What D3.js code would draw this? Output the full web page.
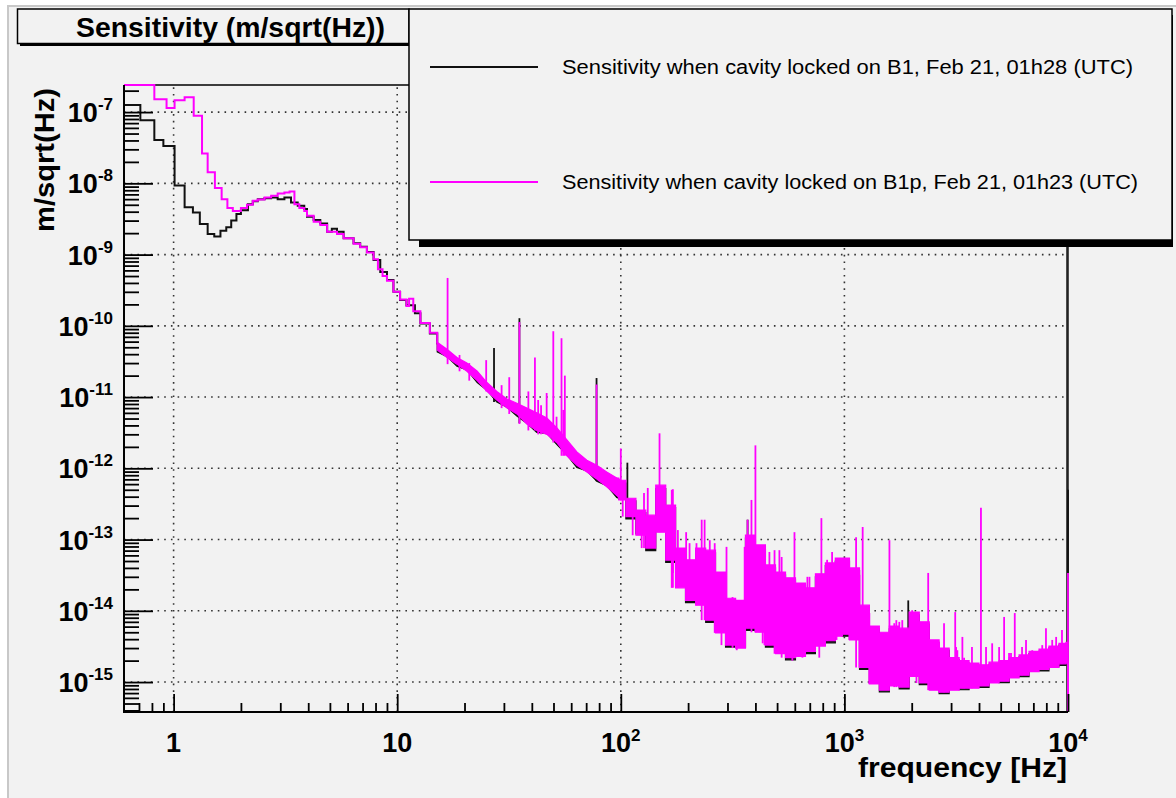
<!DOCTYPE html>
<meta charset="utf-8">
<style>

body {
  margin: 0;
  background: white;
}

svg {
  display: block;
}

text {
  font-family: "Liberation Sans", Arial, Helvetica, sans-serif;
  fill: #000;
}

.grid line {
  stroke: #333;
  stroke-width: 1.6px;
  stroke-dasharray: 1.6px 5.1px;
}

.ticks line {
  stroke: #000;
  stroke-width: 1.8px;
}

.trace {
  fill: none;
  stroke-width: 2px;
}

.peaks line {
  stroke-width: 1.8px;
}

.bold {
  font-weight: bold;
}

</style>
<svg></svg>
<script src="https://cdn.jsdelivr.net/npm/d3@7"></script>
<script>

var width = 1176;
var height = 798;

// frequency in Hz, amplitude in m/sqrt(Hz)

// below 15 Hz both spectra are drawn as plain histogram steps
var b1Steps = [
  [0.60, 1.26e-7], [0.71, 7.7e-8], [0.82, 4.05e-8], [0.90, 3.33e-8], [1.01, 9.35e-9],
  [1.12, 4.6e-9], [1.22, 3.9e-9], [1.31, 2.68e-9], [1.42, 1.94e-9], [1.52, 1.8e-9],
  [1.62, 2.16e-9], [1.72, 2.41e-9], [1.81, 3.0e-9], [1.91, 3.7e-9], [2.0, 4.2e-9],
  [2.15, 5.1e-9], [2.26, 5.6e-9], [2.38, 6.0e-9], [2.55, 6.2e-9], [2.73, 6.35e-9],
  [2.92, 6.0e-9], [3.13, 6.35e-9], [3.35, 5.4e-9], [3.59, 4.85e-9], [3.84, 4.35e-9],
  [3.95, 3.4e-9], [4.23, 3.05e-9], [4.53, 2.74e-9], [4.86, 2.09e-9], [5.1, 2.3e-9],
  [5.38, 2.09e-9], [5.76, 1.69e-9], [6.38, 1.44e-9], [6.83, 1.29e-9], [7.32, 1.09e-9],
  [7.84, 8.4e-10], [8.40, 5.7e-10], [9.0, 4.4e-10], [9.62, 3.0e-10], [10.3, 2.3e-10],
  [11.0, 1.95e-10], [12.0, 1.5e-10], [12.7, 1.08e-10], [14.0, 7.8e-11], [15.1, 5.5e-11]
];

var b1pSteps = [
  [0.60, 2.6e-7], [0.82, 1.52e-7], [0.93, 1.14e-7], [1.01, 1.47e-7], [1.12, 1.61e-7],
  [1.23, 8.9e-8], [1.34, 2.63e-8], [1.42, 1.43e-8], [1.53, 8.6e-9], [1.64, 6.0e-9],
  [1.74, 4.5e-9], [1.84, 4.1e-9], [2.0, 4.5e-9], [2.13, 5.0e-9], [2.26, 5.7e-9],
  [2.38, 5.95e-9], [2.55, 6.35e-9], [2.73, 6.7e-9], [2.92, 7.2e-9], [3.13, 7.46e-9],
  [3.3, 7.7e-9], [3.47, 5.1e-9], [3.65, 4.5e-9], [3.84, 4.1e-9], [3.95, 3.5e-9],
  [4.23, 2.9e-9], [4.53, 2.6e-9], [4.86, 2.1e-9], [5.38, 1.95e-9], [5.76, 1.7e-9],
  [6.38, 1.42e-9], [6.83, 1.27e-9], [7.32, 1.07e-9], [7.84, 8.6e-10], [8.2, 6.2e-10],
  [8.6, 5.0e-10], [9.0, 4.3e-10], [9.62, 3.0e-10], [10.3, 2.35e-10], [11.0, 1.9e-10],
  [11.3, 2.4e-10], [11.8, 1.6e-10], [12.7, 1.1e-10], [14.0, 8.0e-11], [15.1, 5.6e-11]
];

// above 15 Hz the bins are narrower than a pixel: keep the range (low, high) per column
var bandFreq = [
  15.1, 16.7, 18.5, 20.5, 22.8, 25.2, 27.9, 31.0, 34.3, 38.0, 42.1, 46.7, 51.8, 57.4, 63.6, 70.5, 78.1, 86.5, 95.9,
  100, 111, 123, 136, 151, 167, 185, 205, 228, 252, 279, 310, 343, 380, 421, 467, 518, 574, 636, 705, 781, 865, 959,
  1000, 1110, 1230, 1360, 1510, 1670, 1850, 2050, 2280, 2520, 2790, 3100, 3430, 3800, 4210, 4670, 5180, 5740, 6360,
  7050, 7810, 8650, 9590, 10000
];

var b1pHi = [
  5.9e-11, 4.7e-11, 3.6e-11, 3.0e-11, 2.3e-11, 1.6e-11, 1.2e-11, 9.4e-12, 8.2e-12, 7.0e-12, 6.0e-12, 5.1e-12, 3.7e-12,
  2.5e-12, 1.7e-12, 1.3e-12, 1.1e-12, 8.9e-13, 7.3e-13,
  6.8e-13, 3.8e-13, 2.6e-13, 2.2e-13, 5.8e-13, 3.05e-13, 7.6e-14, 5.2e-14, 7.6e-14, 7.1e-14, 3.5e-14, 1.5e-14, 1.4e-14,
  1.16e-13, 8.4e-14, 4.4e-14, 3.5e-14, 2.9e-14, 2.45e-14, 2.1e-14, 3.3e-14, 4.7e-14, 5.5e-14,
  5.5e-14, 4.0e-14, 1.2e-14, 6.1e-15, 5.0e-15, 6.1e-15, 5.7e-15, 9.6e-15, 7.0e-15, 3.9e-15, 3.0e-15, 2.2e-15, 2.0e-15,
  1.85e-15, 1.75e-15, 1.9e-15, 2.0e-15, 2.2e-15, 2.4e-15, 2.7e-15, 2.9e-15, 3.2e-15, 3.5e-15, 3.6e-15
];

var b1pLo = [
  4.6e-11, 3.6e-11, 2.9e-11, 2.3e-11, 1.7e-11, 1.2e-11, 9.1e-12, 7.0e-12, 5.8e-12, 4.2e-12, 3.4e-12, 3.0e-12, 2.3e-12,
  1.5e-12, 1.1e-12, 8.9e-13, 7.1e-13, 5.5e-13, 4.2e-13,
  3.6e-13, 2.1e-13, 1.15e-13, 7.6e-14, 1.27e-13, 5.15e-14, 2.1e-14, 1.4e-14, 1.2e-14, 7.4e-15, 4.9e-15, 3.3e-15, 3.0e-15,
  5.7e-15, 5.0e-15, 3.3e-15, 2.5e-15, 2.2e-15, 2.3e-15, 2.7e-15, 3.2e-15, 3.8e-15, 4.4e-15,
  4.7e-15, 3.9e-15, 1.6e-15, 9.4e-16, 7.7e-16, 8.8e-16, 8.5e-16, 1.2e-15, 9.7e-16, 7.7e-16, 7.2e-16, 7.7e-16, 8.2e-16,
  8.2e-16, 8.8e-16, 9.7e-16, 1.03e-15, 1.14e-15, 1.25e-15, 1.4e-15, 1.5e-15, 1.6e-15, 1.8e-15, 1.85e-15
];

var b1Hi = [
  5.6e-11, 4.5e-11, 3.5e-11, 2.8e-11, 2.2e-11, 1.5e-11, 1.15e-11, 9.0e-12, 7.6e-12, 6.5e-12, 5.5e-12, 4.8e-12, 3.5e-12,
  2.3e-12, 1.6e-12, 1.2e-12, 1.0e-12, 8.4e-13, 7.0e-13,
  6.2e-13, 3.5e-13, 2.4e-13, 2.0e-13, 5.2e-13, 2.8e-13, 7.0e-14, 4.8e-14, 7.0e-14, 6.5e-14, 3.2e-14, 1.4e-14, 1.3e-14,
  1.05e-13, 7.7e-14, 4.0e-14, 3.2e-14, 2.7e-14, 2.3e-14, 2.0e-14, 3.0e-14, 4.3e-14, 5.0e-14,
  5.0e-14, 3.7e-14, 1.1e-14, 5.6e-15, 4.6e-15, 5.6e-15, 5.3e-15, 8.8e-15, 6.5e-15, 3.6e-15, 2.8e-15, 2.05e-15, 1.85e-15,
  1.72e-15, 1.63e-15, 1.77e-15, 1.86e-15, 2.05e-15, 2.25e-15, 2.5e-15, 2.7e-15, 3.0e-15, 3.3e-15, 3.4e-15
];

var b1Lo = [
  4.3e-11, 3.7e-11, 2.7e-11, 2.4e-11, 1.6e-11, 1.25e-11, 8.5e-12, 7.2e-12, 5.4e-12, 4.3e-12, 3.2e-12, 3.1e-12, 2.15e-12,
  1.55e-12, 1.03e-12, 9.2e-13, 6.6e-13, 5.7e-13, 3.9e-13,
  3.7e-13, 1.95e-13, 1.2e-13, 7.0e-14, 1.3e-13, 4.8e-14, 2.2e-14, 1.3e-14, 1.25e-14, 6.9e-15, 5.1e-15, 3.1e-15, 3.1e-15,
  5.3e-15, 5.2e-15, 3.1e-15, 2.6e-15, 2.05e-15, 2.4e-15, 2.5e-15, 3.3e-15, 3.55e-15, 4.6e-15,
  4.4e-15, 4.0e-15, 1.5e-15, 9.7e-16, 7.3e-16, 9.1e-16, 8.0e-16, 1.25e-15, 9.2e-16, 8.0e-16, 6.9e-16, 8.0e-16, 7.8e-16,
  8.5e-16, 8.4e-16, 1.0e-15, 9.8e-16, 1.18e-15, 1.19e-15, 1.45e-15, 1.43e-15, 1.65e-15, 1.72e-15, 1.9e-15
];

// narrow lines sticking out of the band: [Hz, peak value]
var b1pPeaks = [
  [16.8, 4.7e-10], [19.0, 3.9e-11], [21.0, 3.0e-11], [25.0, 3.3e-11], [29.3, 1.47e-11], [31.7, 1.9e-11],
  [35.2, 1.13e-10], [38.6, 1.2e-11], [41.3, 3.6e-11], [42.7, 9.1e-12], [44.0, 7.7e-12], [46.6, 1.14e-11],
  [49.9, 8.4e-11], [51.6, 5.3e-12], [54.3, 6.7e-11], [55.3, 6.6e-12], [56.2, 2.0e-11], [77.9, 1.5e-11],
  [100, 1.9e-12], [102, 3.9e-13], [113, 2.85e-13], [124, 2.0e-13], [127, 4.5e-13], [132, 5.3e-13],
  [138, 1.23e-13], [149, 3.1e-12], [163, 2.85e-13], [169, 5.0e-13], [171, 5.1e-13], [180, 1.36e-13],
  [196, 1.27e-13], [203, 8.9e-14], [218, 8.9e-14], [230, 1.9e-13], [237, 1.9e-13], [250, 9.8e-14],
  [263, 8.9e-14], [282, 2.15e-14], [297, 7.9e-14], [316, 1.56e-14], [358, 7.9e-14], [369, 1.9e-13],
  [384, 3.6e-13], [400, 2.1e-12], [417, 7.9e-14], [439, 4.1e-14], [462, 6.7e-14], [487, 7.1e-14],
  [512, 7.1e-14], [524, 5.7e-14], [568, 2.15e-14], [598, 1.27e-13], [630, 2.15e-14], [683, 3.0e-14],
  [698, 3.0e-14], [789, 2.0e-13], [837, 5.2e-14], [881, 6.7e-14], [979, 5.5e-14],
  [1053, 2.9e-14], [1086, 3.0e-14], [1128, 1.08e-13], [1167, 3.2e-14], [1207, 1.5e-13], [1293, 9.3e-15],
  [1590, 9.8e-14], [1671, 6.7e-15], [1707, 7.4e-15], [1760, 7.0e-15], [1815, 7.4e-15], [2010, 1.02e-14],
  [2100, 6.3e-15], [2370, 3.4e-14], [2650, 3.65e-15], [2790, 6.7e-15], [3130, 9.6e-15], [3160, 3.1e-15],
  [3200, 2.8e-15], [3370, 4.3e-15], [3430, 2.2e-15], [3720, 3.1e-15], [4080, 2.8e-13], [4300, 3.1e-15],
  [4580, 3.5e-15], [4920, 3.1e-15], [5180, 8.2e-15], [5450, 2.55e-15], [5560, 2.55e-15], [5780, 9.3e-15],
  [6230, 3.1e-15], [6490, 3.9e-15], [6920, 2.8e-15], [7200, 2.2e-15], [7670, 3.3e-15], [7970, 5.7e-15],
  [8220, 3.1e-15], [8500, 3.9e-15], [8850, 4.3e-15], [9400, 5.4e-15], [10000, 3.4e-14]
];

var b1Peaks = [
  [27.1, 4.9e-11], [35.2, 1.28e-10], [77.9, 1.85e-11], [107, 1.2e-12], [369, 1.9e-13], [1930, 1.4e-14],
  [10000, 5e-13]
];

// short dips below the band: [Hz, lowest value]
var b1pDips = [
  [171, 3.4e-14], [268, 5.4e-15], [330, 2.8e-15], [431, 3.5e-15], [585, 2.0e-15], [649, 2.2e-15],
  [772, 2.2e-15], [922, 3.9e-15]
];

var xMajor = [1, 10, 100, 1000, 10000];
var xLabels = [['1', ''], ['10', ''], ['10', '2'], ['10', '3'], ['10', '4']];
var yMajor = [1e-7, 1e-8, 1e-9, 1e-10, 1e-11, 1e-12, 1e-13, 1e-14, 1e-15];
var yLabels = ['-7', '-8', '-9', '-10', '-11', '-12', '-13', '-14', '-15'];

var title = 'Sensitivity (m/sqrt(Hz))';
var xTitle = 'frequency [Hz]';
var yTitle = 'm/sqrt(Hz)';
var legendLabels = [
  'Sensitivity when cavity locked on B1, Feb 21, 01h28 (UTC)',
  'Sensitivity when cavity locked on B1p, Feb 21, 01h23 (UTC)'
];
var colors = ['#111', '#ff00ff'];

var frame = {left: 124, top: 85, right: 1068, bottom: 712};

var x = d3.scaleLog().domain([0.6, 10000]).range([frame.left, frame.right]);
var y = d3.scaleLog().domain([3.8e-16, 2.4e-7]).range([frame.bottom, frame.top]).clamp(true);

var svg = d3.select('svg')
  .attr('width', width)
  .attr('height', height);

// canvas
svg.append('rect').attr('width', width).attr('height', height).attr('fill', '#fff');
svg.append('rect').attr('x', 8).attr('y', 6).attr('width', width - 8).attr('height', height - 6).attr('fill', '#f2f2f2');
svg.append('path').attr('d', 'M8,' + height + 'V6H' + width)
  .attr('fill', 'none').attr('stroke', '#c8c8c8').attr('stroke-width', 2);

svg.append('clipPath').attr('id', 'frame-clip')
  .append('rect')
  .attr('x', frame.left).attr('y', frame.top - 1)
  .attr('width', frame.right - frame.left + 2).attr('height', frame.bottom - frame.top + 1);

// grid
var grid = svg.append('g').attr('class', 'grid');
grid.selectAll('.gx')
  .data(xMajor.filter(function (d) { return x(d) < frame.right - 2; }))
  .enter().append('line')
  .attr('x1', function (d) { return x(d); })
  .attr('x2', function (d) { return x(d); })
  .attr('y1', frame.bottom)
  .attr('y2', frame.top);
grid.selectAll('.gy')
  .data(yMajor)
  .enter().append('line')
  .attr('x1', frame.left)
  .attr('x2', frame.right)
  .attr('y1', function (d) { return y(d); })
  .attr('y2', function (d) { return y(d); });

// frame top and right, under the data
svg.append('path')
  .attr('d', 'M' + frame.left + ',' + frame.top + 'H' + (frame.right - 0.5))
  .attr('fill', 'none').attr('stroke', '#000').attr('stroke-width', 1.6);
svg.append('line')
  .attr('x1', frame.right - 0.5).attr('x2', frame.right - 0.5)
  .attr('y1', frame.top).attr('y2', frame.bottom)
  .attr('stroke', '#222').attr('stroke-width', 2.6);

// spectra
var plot = svg.append('g').attr('clip-path', 'url(#frame-clip)');

var stepLine = d3.line()
  .x(function (d) { return x(d[0]); })
  .y(function (d) { return y(d[1]); })
  .curve(d3.curveStepAfter);

// smooth below 100 Hz, blocky columns above
var bandLow = d3.area()
  .x(function (d) { return x(d.f); })
  .y0(function (d) { return y(d.lo); })
  .y1(function (d) { return y(d.hi); });
var bandHigh = d3.area()
  .x(function (d) { return x(d.f); })
  .y0(function (d) { return y(d.lo); })
  .y1(function (d) { return y(d.hi); })
  .curve(d3.curveStep);

function nearest (f) {
  return Math.min(bandFreq.length - 1, d3.bisectLeft(bandFreq, f));
}

function drawSeries (steps, lo, hi, peaks, dips, color) {
  var rows = bandFreq.map(function (f, i) { return {f: f, lo: lo[i], hi: hi[i]}; });

  plot.append('path')
    .datum(steps)
    .attr('class', 'trace')
    .attr('stroke', color)
    .attr('d', stepLine);

  plot.append('path')
    .datum(rows.filter(function (d) { return d.f <= 100; }))
    .attr('fill', color)
    .attr('stroke', color)
    .attr('stroke-width', 1.2)
    .attr('d', bandLow);

  plot.append('path')
    .datum(rows.filter(function (d) { return d.f >= 95; }))
    .attr('fill', color)
    .attr('stroke', color)
    .attr('stroke-width', 1.2)
    .attr('d', bandHigh);

  var g = plot.append('g').attr('class', 'peaks');

  g.selectAll('.up')
    .data(peaks)
    .enter().append('line')
    .attr('stroke', color)
    .attr('x1', function (d) { return x(d[0]); })
    .attr('x2', function (d) { return x(d[0]); })
    .attr('y1', function (d) { return y(d[1]); })
    .attr('y2', function (d) { return y(lo[nearest(d[0])]); });

  g.selectAll('.down')
    .data(dips)
    .enter().append('line')
    .attr('stroke', color)
    .attr('x1', function (d) { return x(d[0]); })
    .attr('x2', function (d) { return x(d[0]); })
    .attr('y1', function (d) { return y(d[1]); })
    .attr('y2', function (d) { return y(hi[nearest(d[0])]); });

  // the last bin closes down onto the frame bottom
  var last = bandFreq.length - 1;
  plot.append('line')
    .attr('stroke', color)
    .attr('stroke-width', 2)
    .attr('x1', x(bandFreq[last]))
    .attr('x2', x(bandFreq[last]))
    .attr('y1', y(lo[last]))
    .attr('y2', frame.bottom);
}

drawSeries(b1Steps, b1Lo, b1Hi, b1Peaks, [], colors[0]);
drawSeries(b1pSteps, b1pLo, b1pHi, b1pPeaks, b1pDips, colors[1]);

function isPow10 (d) {
  var l = Math.log10(d);
  return Math.abs(l - Math.round(l)) < 1e-6;
}

var xMinor = x.ticks().filter(function (d) { return !isPow10(d) && d > 0.61; });
var yMinor = y.ticks().filter(function (d) { return !isPow10(d); });

var ticks = svg.append('g').attr('class', 'ticks');

ticks.append('g')
  .attr('transform', 'translate(0,' + frame.bottom + ')')
  .call(d3.axisBottom(x).tickValues(xMinor).tickSize(-9).tickFormat(''));
ticks.append('g')
  .attr('transform', 'translate(0,' + frame.bottom + ')')
  .call(d3.axisBottom(x).tickValues(xMajor).tickSize(-18).tickFormat(''));
ticks.append('g')
  .attr('transform', 'translate(' + frame.left + ',0)')
  .call(d3.axisLeft(y).tickValues(yMinor).tickSize(-15).tickFormat(''));
ticks.append('g')
  .attr('transform', 'translate(' + frame.left + ',0)')
  .call(d3.axisLeft(y).tickValues(yMajor).tickSize(-29).tickFormat(''));
ticks.selectAll('.domain').remove();

// axis lines on top
svg.append('path')
  .attr('d', 'M' + frame.left + ',' + frame.top + 'V' + frame.bottom + 'H' + frame.right)
  .attr('fill', 'none').attr('stroke', '#000').attr('stroke-width', 2);

// tick labels
var xl = svg.append('g').selectAll('text')
  .data(xMajor)
  .enter().append('text')
  .attr('class', 'bold')
  .attr('x', function (d) { return x(d); })
  .attr('y', 752)
  .attr('text-anchor', 'middle');
xl.append('tspan').style('font-size', '27px').text(function (d, i) { return xLabels[i][0]; });
xl.append('tspan').style('font-size', '17px').attr('dy', -11).text(function (d, i) { return xLabels[i][1]; });

var yl = svg.append('g').selectAll('text')
  .data(yMajor)
  .enter().append('text')
  .attr('class', 'bold')
  .attr('x', 113)
  .attr('y', function (d) { return y(d) + 10; })
  .attr('text-anchor', 'end');
yl.append('tspan').style('font-size', '27px').text('10');
yl.append('tspan').style('font-size', '17px').attr('dy', -12).text(function (d, i) { return yLabels[i]; });

// axis titles
svg.append('text')
  .attr('class', 'bold')
  .attr('x', 1067)
  .attr('y', 777)
  .attr('text-anchor', 'end')
  .attr('textLength', 209)
  .attr('lengthAdjust', 'spacingAndGlyphs')
  .style('font-size', '27px')
  .text(xTitle);

svg.append('text')
  .attr('class', 'bold')
  .attr('transform', 'translate(54,88) rotate(-90)')
  .attr('text-anchor', 'end')
  .attr('textLength', 144)
  .attr('lengthAdjust', 'spacingAndGlyphs')
  .style('font-size', '27px')
  .text(yTitle);

// title box
svg.append('rect').attr('x', 20).attr('y', 12).attr('width', 389).attr('height', 34).attr('fill', '#000');
svg.append('rect').attr('x', 17.5).attr('y', 9).attr('width', 391.5).attr('height', 34.5)
  .attr('fill', '#f2f2f2').attr('stroke', '#000').attr('stroke-width', 1.5);
svg.append('text')
  .attr('class', 'bold')
  .attr('x', 76)
  .attr('y', 37)
  .attr('textLength', 309)
  .attr('lengthAdjust', 'spacingAndGlyphs')
  .style('font-size', '28px')
  .text(title);

// legend
svg.append('rect').attr('x', 419).attr('y', 15).attr('width', 754).attr('height', 232).attr('fill', '#000');
svg.append('rect').attr('x', 409).attr('y', 9).attr('width', 763).attr('height', 231)
  .attr('fill', '#f2f2f2').attr('stroke', '#000').attr('stroke-width', 1.5);

var legendY = [67, 182];
var legendLen = [571, 576];
var entry = svg.append('g').selectAll('g')
  .data(legendLabels)
  .enter().append('g');
entry.append('line')
  .attr('x1', 430).attr('x2', 538)
  .attr('y1', function (d, i) { return legendY[i]; })
  .attr('y2', function (d, i) { return legendY[i]; })
  .attr('stroke', function (d, i) { return colors[i]; })
  .attr('stroke-width', 2);
entry.append('text')
  .attr('x', 562)
  .attr('y', function (d, i) { return legendY[i] + 7; })
  .attr('textLength', function (d, i) { return legendLen[i]; })
  .attr('lengthAdjust', 'spacingAndGlyphs')
  .style('font-size', '20px')
  .text(function (d) { return d; });

</script>
